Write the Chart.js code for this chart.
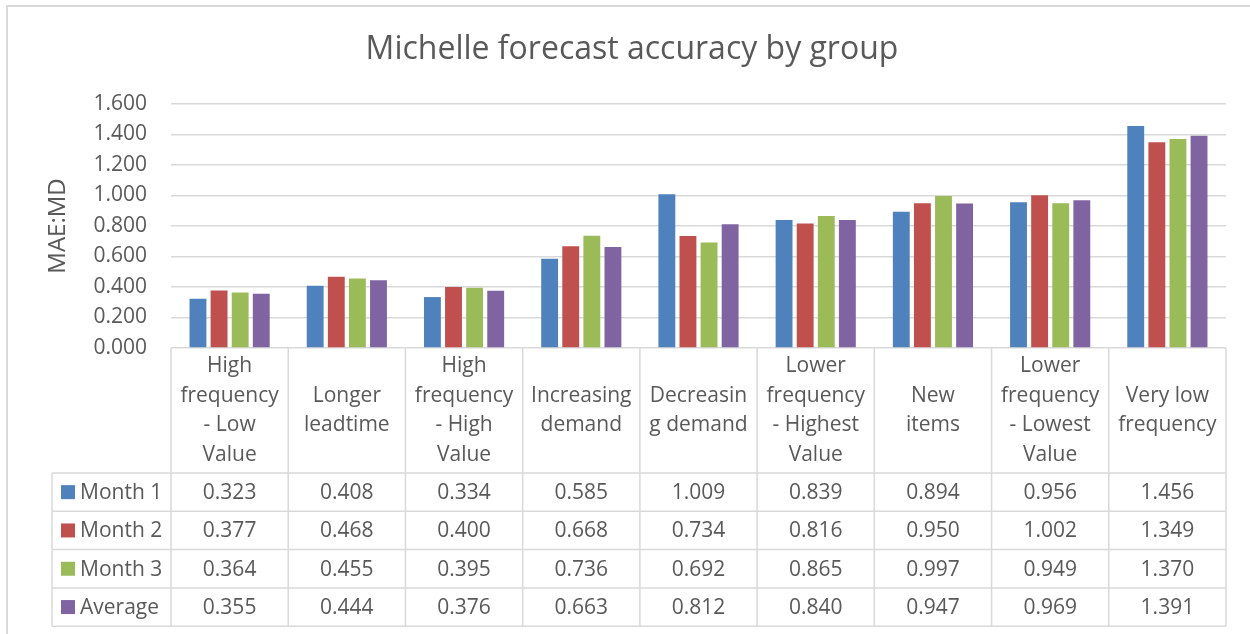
<!DOCTYPE html>
<html>
<head>
<meta charset="utf-8">
<script src="https://cdn.jsdelivr.net/npm/chart.js@4.4.1/dist/chart.umd.min.js"></script>
<style>
  html, body { margin: 0; padding: 0; background: #ffffff; }
  #wrap { width: 1250px; height: 634px; position: relative; }
</style>
</head>
<body>
<div id="wrap"><canvas id="c" width="1250" height="634"></canvas></div>
<script>
// Group names (split into the lines shown in the table header)
const categories = [
  ["High", "frequency", "- Low", "Value"],
  ["Longer", "leadtime"],
  ["High", "frequency", "- High", "Value"],
  ["Increasing", "demand"],
  ["Decreasin", "g demand"],
  ["Lower", "frequency", "- Highest", "Value"],
  ["New", "items"],
  ["Lower", "frequency", "- Lowest", "Value"],
  ["Very low", "frequency"]
];

// MAE:MD per group
const month1  = [0.323, 0.408, 0.334, 0.585, 1.009, 0.839, 0.894, 0.956, 1.456];
const month2  = [0.377, 0.468, 0.400, 0.668, 0.734, 0.816, 0.950, 1.002, 1.349];
const month3  = [0.364, 0.455, 0.395, 0.736, 0.692, 0.865, 0.997, 0.949, 1.370];
const average = [0.355, 0.444, 0.376, 0.663, 0.812, 0.840, 0.947, 0.969, 1.391];

const seriesNames = ["Month 1", "Month 2", "Month 3", "Average"];
const yTicks = { min: 0, max: 1.6, step: 0.2 };
const chartTitle = 'Michelle forecast accuracy by group';

const FONT = "'Open Sans', 'Liberation Sans', sans-serif";
const TEXT = '#595959';
const LINE = '#D9D9D9';
const COLORS = ['#4F81BD', '#C0504D', '#9BBB59', '#8064A2'];

// White background, light frame around the chart, and the title centred on the frame
const framePlugin = {
  id: 'frame',
  beforeDraw(chart) {
    const ctx = chart.ctx;
    ctx.save();
    ctx.fillStyle = '#ffffff';
    ctx.fillRect(0, 0, chart.width, chart.height);
    ctx.strokeStyle = LINE;
    ctx.lineWidth = 2;
    ctx.beginPath();
    ctx.moveTo(7, chart.height + 5);
    ctx.lineTo(7, 6);
    ctx.lineTo(chart.width + 5, 6);
    ctx.stroke();

    ctx.fillStyle = TEXT;
    ctx.font = `32px ${FONT}`;
    ctx.textAlign = 'center';
    ctx.textBaseline = 'middle';
    ctx.fillText(chartTitle, 632, 50);
    ctx.restore();
  }
};

// Data table under the plot: header with group names, then one row per series
const dataTablePlugin = {
  id: 'dataTable',
  afterDraw(chart) {
    const { ctx, chartArea } = chart;
    const xs = chart.scales.x;
    const labels = chart.data.labels;
    const sets = chart.data.datasets;
    const n = labels.length;
    const step = (chartArea.right - chartArea.left) / n;
    const top = chartArea.bottom;
    const headH = 125;
    const rowH = 38.3;
    const legendLeft = 52;
    const rowsTop = top + headH;
    const bottom = rowsTop + rowH * sets.length;

    const seg = (x1, y1, x2, y2) => {
      ctx.beginPath(); ctx.moveTo(x1, y1); ctx.lineTo(x2, y2); ctx.stroke();
    };

    ctx.save();
    ctx.strokeStyle = LINE;
    ctx.lineWidth = 1.5;
    for (let i = 0; i <= n; i++) {
      const px = chartArea.left + i * step;
      seg(px, top, px, bottom);
    }
    seg(legendLeft, rowsTop, legendLeft, bottom);
    for (let r = 0; r <= sets.length; r++) {
      const py = rowsTop + r * rowH;
      seg(legendLeft, py, chartArea.right, py);
    }

    ctx.fillStyle = TEXT;
    ctx.font = `21px ${FONT}`;
    ctx.textAlign = 'center';
    ctx.textBaseline = 'middle';
    const lh = 29.5;
    labels.forEach((lines, i) => {
      const cx = xs.getPixelForValue(i);
      const y0 = top + headH / 2 - (lines.length - 1) * lh / 2;
      lines.forEach((t, k) => ctx.fillText(t, cx, y0 + k * lh));
    });

    sets.forEach((ds, r) => {
      const cy = rowsTop + r * rowH + rowH / 2;
      ctx.fillStyle = ds.backgroundColor;
      ctx.fillRect(61, cy - 7, 14, 14);
      ctx.fillStyle = TEXT;
      ctx.textAlign = 'left';
      ctx.fillText(ds.label, 80, cy + 1);
      ctx.textAlign = 'center';
      ds.data.forEach((v, i) => {
        ctx.fillText(v.toFixed(3), xs.getPixelForValue(i), cy + 1);
      });
    });
    ctx.restore();
  }
};

const seriesData = [month1, month2, month3, average];

new Chart(document.getElementById('c'), {
  type: 'bar',
  data: {
    labels: categories,
    datasets: seriesData.map((d, i) => ({
      label: seriesNames[i],
      data: d,
      backgroundColor: COLORS[i],
      categoryPercentage: 0.72,
      barPercentage: 0.8
    }))
  },
  options: {
    responsive: false,
    animation: false,
    devicePixelRatio: 1,
    layout: { padding: { left: 0, right: 24, top: 104, bottom: 286 } },
    plugins: {
      legend: { display: false },
      tooltip: { enabled: false },
      title: { display: false }
    },
    scales: {
      x: { display: false },
      y: {
        min: yTicks.min,
        max: yTicks.max,
        ticks: {
          stepSize: yTicks.step,
          callback: v => Number(v).toFixed(3),
          color: TEXT,
          font: { family: FONT, size: 21 },
          padding: 24
        },
        grid: { color: LINE, lineWidth: 1.5, drawTicks: false },
        border: { display: false },
        title: {
          display: true,
          text: 'MAE:MD',
          color: TEXT,
          font: { family: FONT, size: 24 },
          padding: { top: 44, bottom: 0 }
        },
        afterFit(scale) { scale.width = 171; }
      }
    }
  },
  plugins: [framePlugin, dataTablePlugin]
});
</script>
</body>
</html>
